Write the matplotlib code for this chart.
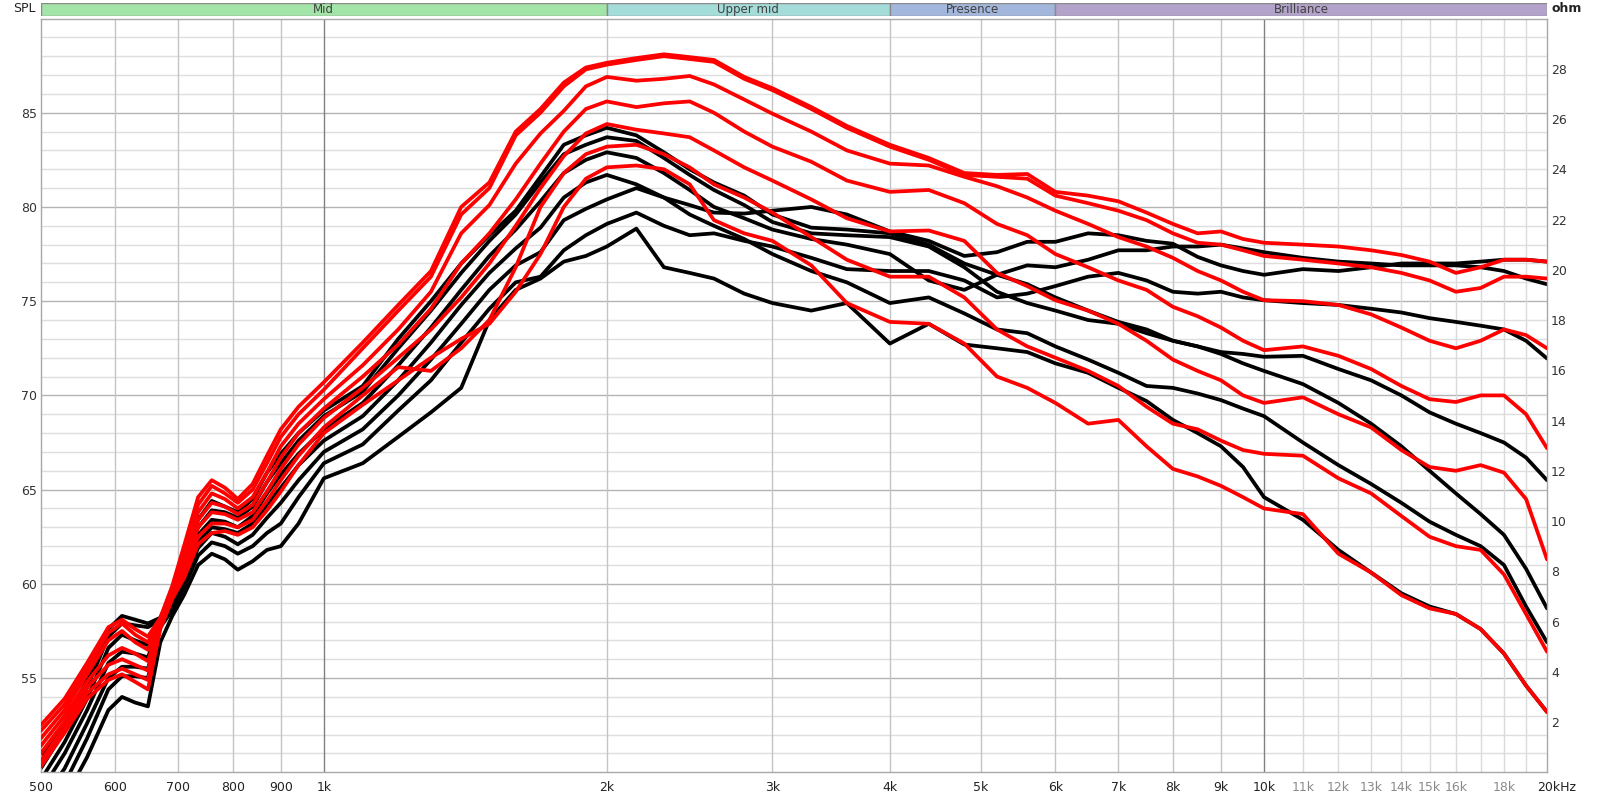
"""Frequency response overlay, REW style (SPL left, ohm right, log freq)."""
import matplotlib
matplotlib.use("Agg")
import matplotlib.pyplot as plt
import numpy as np

# ---------- data ----------------------------------------------------------

FREQ = [500, 530, 560, 590, 610, 630, 650, 670, 690, 710, 735, 760, 785, 810,
        840, 870, 900, 940, 1000,
        1100, 1200, 1300, 1400, 1500, 1600, 1700, 1800, 1900, 2000,
        2150, 2300, 2450, 2600, 2800, 3000, 3300, 3600, 4000,
        4400, 4800, 5200, 5600, 6000, 6500, 7000, 7500, 8000, 8500, 9000, 9500, 10000,
        11000, 12000, 13000, 14000, 15000, 16000, 17000, 18000, 19000, 20000]

RED_1 = [52.5, 53.9, 55.8, 57.7, 58.1, 57.6, 57.2, 58.2, 59.9, 62.0, 64.6, 65.5, 65.1, 64.5,
         65.3, 66.8, 68.2, 69.4, 70.7,
         72.8, 74.8, 76.6, 80.0, 81.3, 84.0, 85.2, 86.6, 87.4, 87.65,
         87.9, 88.1, 87.95, 87.8, 86.9, 86.3, 85.3, 84.3, 83.3,
         82.6, 81.8, 81.7, 81.75, 80.8, 80.6, 80.3, 79.7, 79.1, 78.6, 78.7, 78.3, 78.1,
         78.0, 77.9, 77.7, 77.45, 77.1, 76.5, 76.8, 77.2, 77.2, 77.1]
RED_2 = [52.2, 53.6, 55.5, 57.4, 57.9, 57.3, 56.9, 58.1, 59.8, 61.8, 64.2, 65.2, 64.8, 64.3,
         65.0, 66.4, 67.8, 69.0, 70.3,
         72.5, 74.5, 76.3, 79.6, 81.0, 83.8, 85.0, 86.4, 87.3, 87.55,
         87.8, 88.0, 87.85, 87.7, 86.8, 86.2, 85.2, 84.2, 83.2,
         82.5, 81.7, 81.6, 81.5, 80.6, 80.2, 79.8, 79.3, 78.6, 78.1, 78.0, 77.7, 77.4,
         77.2, 77.0, 76.8, 76.5, 76.1, 75.5, 75.7, 76.3, 76.3, 76.2]
RED_3 = [51.8, 53.3, 55.2, 57.0, 57.5, 56.9, 56.5, 58.0, 59.6, 61.5, 63.8, 64.8, 64.5, 64.0,
         64.6, 65.9, 67.3, 68.5, 69.8,
         71.6, 73.5, 75.5, 78.6, 80.1, 82.3, 83.9, 85.1, 86.4, 86.9,
         86.7, 86.8, 86.95, 86.5, 85.7, 84.95, 84.0, 83.0, 82.3,
         82.2, 81.6, 81.1, 80.5, 79.8, 79.1, 78.4, 77.9, 77.3, 76.6, 76.1, 75.5, 75.05,
         75.0, 74.8, 74.3, 73.6, 72.9, 72.5, 72.9, 73.5, 73.2, 72.5]
RED_4 = [51.4, 53.0, 54.8, 56.2, 56.6, 56.3, 55.9, 57.9, 59.5, 61.2, 63.4, 64.3, 64.1, 63.7,
         64.2, 65.4, 66.7, 68.0, 69.3,
         71.0, 72.7, 74.6, 77.0, 78.6, 80.4, 82.3, 84.0, 85.2, 85.6,
         85.3, 85.5, 85.6, 85.0, 84.0, 83.2, 82.4, 81.4, 80.8,
         80.9, 80.2, 79.1, 78.5, 77.5, 76.8, 76.1, 75.6, 74.7, 74.2, 73.6, 72.9, 72.4,
         72.6, 72.1, 71.4, 70.5, 69.8, 69.65, 70.0, 70.0, 69.0, 67.2]
RED_5 = [51.0, 52.7, 54.5, 55.7, 56.0, 55.7, 55.4, 57.8, 59.4, 60.9, 63.0, 63.8, 63.7, 63.4,
         63.8, 64.9, 66.1, 67.4, 68.8,
         70.4, 72.0, 73.5, 75.2, 77.0, 79.0, 81.0, 82.7, 83.9, 84.4,
         84.1, 83.9, 83.7, 83.0, 82.1, 81.4, 80.4, 79.4, 78.7,
         78.75, 78.2, 76.5, 75.8, 75.05, 74.5, 73.8, 72.9, 71.9, 71.3, 70.8, 70.0, 69.6,
         69.9, 69.0, 68.3, 67.1, 66.2, 66.0, 66.3, 65.9, 64.5, 61.3]
RED_6 = [50.6, 52.4, 54.2, 55.2, 55.5, 55.2, 54.9, 57.7, 59.3, 60.6, 62.5, 63.2, 63.2, 63.0,
         63.4, 64.4, 65.5, 66.8, 68.3,
         70.0, 71.5, 71.3, 72.5, 74.0, 76.8, 80.0, 81.8, 82.8, 83.2,
         83.3, 82.8, 82.1, 81.2, 80.5, 79.7, 78.4, 77.2, 76.3,
         76.3, 75.2, 73.5, 72.6, 72.0, 71.3, 70.5, 69.4, 68.5, 68.2, 67.6, 67.1, 66.9,
         66.8, 65.6, 64.8, 63.6, 62.5, 62.0, 61.8, 60.5, 58.4, 56.4]
RED_7 = [50.3, 52.1, 53.9, 54.9, 55.2, 54.8, 54.4, 57.6, 59.2, 60.3, 62.1, 62.7, 62.8, 62.6,
         63.0, 63.9, 64.9, 66.3, 68.0,
         69.5, 70.8, 72.0, 73.0, 73.8, 75.5, 77.5, 80.0, 81.5, 82.1,
         82.2, 82.0, 81.2, 79.3, 78.6, 78.2, 76.9, 74.9, 73.9,
         73.8, 72.75, 71.0, 70.4, 69.6, 68.5, 68.7, 67.3, 66.1, 65.7, 65.2, 64.6, 64.0,
         63.7, 61.6, 60.6, 59.4, 58.7, 58.4, 57.6, 56.3, 54.6, 53.2]

BLACK_1 = [50.7, 52.6, 54.9, 57.6, 58.3, 58.1, 57.9, 58.2, 59.6, 61.4, 63.4, 64.4, 64.1, 63.8,
           64.5, 65.9, 66.9, 68.0, 69.2,
           70.5, 73.0, 75.0, 77.0, 78.5, 79.8, 81.6, 83.3, 83.8, 84.2,
           83.8, 82.9, 82.0, 81.3, 80.6, 79.6, 78.9, 78.8, 78.6,
           78.0, 77.0, 76.4, 75.9, 75.2, 74.5, 73.9, 73.5, 72.9, 72.6, 72.2, 71.7, 71.3,
           70.6, 69.6, 68.5, 67.3, 66.0, 64.8, 63.7, 62.6, 60.8, 58.7]
BLACK_2 = [50.2, 52.2, 54.5, 57.2, 57.9, 57.8, 57.7, 58.1, 59.4, 61.1, 63.0, 63.9, 63.8, 63.5,
           64.1, 65.4, 66.4, 67.6, 68.9,
           70.2, 72.5, 74.5, 76.5, 78.2, 79.6, 81.3, 82.8, 83.3, 83.7,
           83.5, 82.6, 81.7, 80.9, 80.1, 79.2, 78.6, 78.5, 78.4,
           77.9, 76.8, 75.5, 74.9, 74.5, 74.0, 73.8, 73.3, 72.9, 72.6, 72.3, 72.2, 72.05,
           72.1, 71.4, 70.8, 70.0, 69.1, 68.5, 68.0, 67.5, 66.7, 65.5]
BLACK_3 = [49.6, 51.6, 53.9, 56.6, 57.3, 57.0, 56.75, 58.0, 59.2, 60.8, 62.6, 63.4, 63.3, 63.0,
           63.6, 64.8, 65.8, 66.9, 68.2,
           69.6, 71.6, 73.6, 75.6, 77.4, 78.8, 80.3, 81.8, 82.5, 82.9,
           82.6, 81.8, 80.9, 80.0, 79.4, 78.8, 78.3, 78.0, 77.5,
           76.1, 75.6, 76.4, 76.9, 76.8, 77.2, 77.7, 77.7, 77.9, 77.9, 78.0, 77.8, 77.6,
           77.3, 77.1, 77.0, 76.9, 76.9, 76.9, 76.8, 76.6, 76.2, 75.9]
BLACK_4 = [49.0, 51.0, 53.3, 55.8, 56.4, 56.3, 56.1, 57.9, 59.0, 60.5, 62.2, 63.0, 62.9, 62.7,
           63.2, 64.2, 65.1, 66.3, 67.6,
           68.9, 70.8, 72.8, 74.8, 76.5, 77.8, 78.9, 80.5, 81.3, 81.7,
           81.2, 80.5, 79.6, 79.0, 78.3, 77.5, 76.6, 76.0, 74.9,
           75.2, 74.35, 73.5, 73.3, 72.6, 71.9, 71.2, 70.5, 70.4, 70.1, 69.75, 69.3, 68.9,
           67.5, 66.3, 65.3, 64.3, 63.3, 62.6, 62.0, 61.0, 58.8, 56.9]
BLACK_5 = [48.4, 50.2, 52.6, 55.0, 55.6, 55.6, 55.5, 57.8, 58.8, 60.2, 61.9, 62.7, 62.5, 62.1,
           62.6, 63.5, 64.3, 65.5, 67.0,
           68.2, 70.0, 71.9, 73.8, 75.6, 76.9, 77.6, 79.3, 79.9, 80.4,
           81.0, 80.5, 80.1, 79.7, 79.65, 79.8, 80.0, 79.6, 78.7,
           78.2, 77.4, 77.6, 78.15, 78.15, 78.6, 78.5, 78.2, 78.05, 77.35, 76.9, 76.6, 76.4,
           76.7, 76.6, 76.8, 77.0, 77.0, 77.0, 77.1, 77.2, 77.2, 77.1]
BLACK_6 = [47.8, 49.4, 51.8, 54.4, 55.1, 55.1, 55.0, 57.7, 58.6, 59.8, 61.5, 62.2, 62.0, 61.6,
           62.0, 62.7, 63.2, 64.6, 66.4,
           67.4, 69.2, 70.8, 72.8, 74.6, 76.0, 76.3, 77.7, 78.5, 79.1,
           79.7, 79.0, 78.5, 78.6, 78.2, 77.9, 77.3, 76.7, 76.6,
           76.6, 76.1, 75.2, 75.4, 75.8, 76.3, 76.5, 76.1, 75.5, 75.4, 75.5, 75.2, 75.05,
           74.9, 74.8, 74.6, 74.4, 74.1, 73.9, 73.7, 73.5, 72.9, 71.96]
BLACK_7 = [47.0, 48.6, 50.8, 53.3, 54.0, 53.7, 53.5, 56.9, 58.3, 59.4, 61.0, 61.6, 61.3, 60.75,
           61.2, 61.8, 62.0, 63.2, 65.6,
           66.4, 67.8, 69.1, 70.4, 74.0, 75.6, 76.2, 77.1, 77.4, 77.9,
           78.85, 76.8, 76.5, 76.2, 75.4, 74.9, 74.5, 74.9, 72.75,
           73.8, 72.7, 72.5, 72.3, 71.7, 71.2, 70.4, 69.7, 68.7, 68.0, 67.3, 66.2, 64.6,
           63.4, 61.8, 60.6, 59.5, 58.8, 58.4, 57.6, 56.3, 54.6, 53.2]

BLACKS = [BLACK_1, BLACK_2, BLACK_3, BLACK_4, BLACK_5, BLACK_6, BLACK_7]
REDS = [RED_1, RED_2, RED_3, RED_4, RED_5, RED_6, RED_7]

BANDS = [("Mid", 500, 2000, "#a3e4a9"),
         ("Upper mid", 2000, 4000, "#a3dcd8"),
         ("Presence", 4000, 6000, "#a3b6dc"),
         ("Brilliance", 6000, 20000, "#b3a3cb")]

X_TICKS = [500, 600, 700, 800, 900, 1000, 2000, 3000, 4000, 5000, 6000, 7000,
           8000, 9000, 10000, 11000, 12000, 13000, 14000, 15000, 16000, 18000, 20000]
X_LABELS = ["500", "600", "700", "800", "900", "1k", "2k", "3k", "4k", "5k", "6k",
            "7k", "8k", "9k", "10k", "11k", "12k", "13k", "14k", "15k", "16k", "18k",
            "20kHz"]
GREY_LABELS = {"11k", "12k", "13k", "14k", "15k", "16k", "18k"}
SPL_TICKS = [55, 60, 65, 70, 75, 80, 85]
OHM_TICKS = list(range(2, 30, 2))

# ---------- figure -------------------------------------------------------

W, H = 1600, 797
fig = plt.figure(figsize=(W / 100, H / 100), dpi=100)
fig.patch.set_facecolor("white")

x0, x1 = 40.8 / W, 1547 / W
ytop, ybot = 18.5, 772.3
ax = fig.add_axes([x0, 1 - ybot / H, x1 - x0, (ybot - ytop) / H])
ax.set_xscale("log")
ax.set_xlim(500, 20000)
ax.set_ylim(50, 90)

# grid
for db in range(51, 90):
    major = db % 5 == 0
    ax.axhline(db, color="#b4b4b4" if major else "#dedede", lw=1.0, zorder=0)
for f in [600, 700, 800, 900] + list(range(2000, 10000, 1000)):
    ax.axvline(f, color="#c4c4c4", lw=1.0, zorder=0)
for f in range(11000, 20000, 1000):
    ax.axvline(f, color="#dadada", lw=1.0, zorder=0)
for f in (1000, 10000):
    ax.axvline(f, color="#808080", lw=1.0, zorder=0)

for c in BLACKS:
    ax.plot(FREQ, c, color="black", lw=2.7, solid_capstyle="round",
            solid_joinstyle="round", zorder=2)
for c in REDS:
    ax.plot(FREQ, c, color="#ff0000", lw=2.7, solid_capstyle="round",
            solid_joinstyle="round", zorder=3)

for s in ax.spines.values():
    s.set_color("#a8a8a8")
    s.set_linewidth(1.0)

ax.set_xticks(X_TICKS)
ax.set_xticklabels(X_LABELS)
ax.xaxis.set_minor_locator(matplotlib.ticker.NullLocator())
ax.tick_params(axis="x", length=0, pad=6, labelsize=9, labelcolor="#222222")
for lab in ax.get_xticklabels():
    if lab.get_text() in GREY_LABELS:
        lab.set_color("#8a8a8a")
    if lab.get_text() == "20kHz":
        lab.set_horizontalalignment("left")
        lab.set_x(0)
ax.get_xticklabels()[-1].set_transform(
    ax.get_xticklabels()[-1].get_transform()
    + matplotlib.transforms.ScaledTranslation(-10 / 100, 0, fig.dpi_scale_trans))

ax.set_yticks(SPL_TICKS)
ax.tick_params(axis="y", length=0, pad=3, labelsize=9, labelcolor="#333333")

ax2 = ax.twinx()
ax2.set_ylim(0, 30)
ax2.set_yticks(OHM_TICKS)
ax2.tick_params(axis="y", length=0, pad=3, labelsize=9, labelcolor="#333333")
for s in ax2.spines.values():
    s.set_visible(False)

# band strip on top
bx = fig.add_axes([x0, 1 - 15.5 / H, x1 - x0, 12.5 / H])
bx.set_xscale("log")
bx.set_xlim(500, 20000)
bx.set_ylim(0, 1)
bx.axis("off")
for name, lo, hi, col in BANDS:
    bx.axvspan(lo, hi, facecolor=col, edgecolor="#8a8a8a", lw=1.0)
    bx.text(np.sqrt(lo * hi), 0.45, name, ha="center", va="center",
            fontsize=8.5, color="#404040")

fig.text(36 / W, 1 - 9 / H, "SPL", ha="right", va="center", fontsize=9, color="#222222")
fig.text(1551 / W, 1 - 9 / H, "ohm", ha="left", va="center", fontsize=9,
         color="#222222", fontweight="bold")

fig.savefig("out.png", dpi=100, facecolor="white")
